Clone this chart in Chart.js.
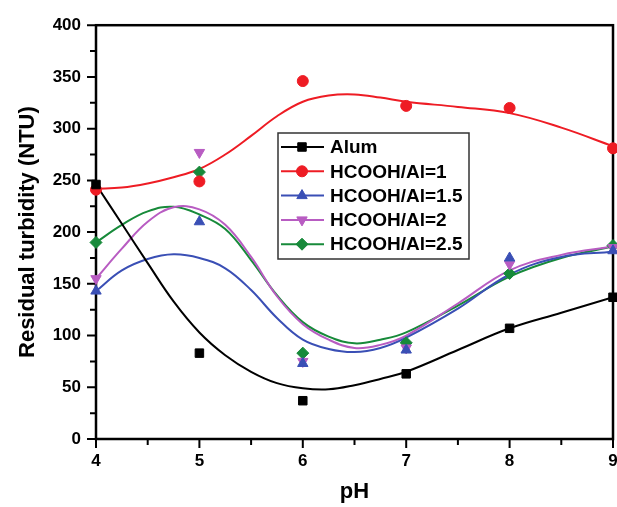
<!DOCTYPE html>
<html>
<head>
<meta charset="utf-8">
<script src="https://cdn.jsdelivr.net/npm/chart.js@4.4.1/dist/chart.umd.min.js"></script>
<style>
  html, body { margin: 0; padding: 0; background: #fff; overflow: hidden; }
  #wrap { width: 630px; height: 507px; }
</style>
</head>
<body>
<div id="wrap"><canvas id="chart" width="630" height="507"></canvas></div>
<script>
// measured points
const phPoints = [4, 5, 6, 7, 8, 9];
const alum = [246, 83, 37, 63, 107, 137];
const ratio1 = [241, 249, 346, 322, 320, 281];
const ratio15 = [143, 210, 73, 86, 175, 182];
const ratio2 = [155, 277, 75, 88, 169, 185];
const ratio25 = [190, 258, 83, 93, 160, 187];

// fitted curves
const phCurve = [4, 4.25, 4.5, 4.75, 5, 5.25, 5.5, 5.75, 6, 6.25, 6.5, 6.75, 7, 7.5, 8, 8.5, 9];
const alumFit = [246, 208, 170, 133, 103, 81, 65, 54, 49, 48, 52, 58, 65, 86, 107, 122, 137];
const ratio1Fit = [242, 243, 247, 253, 261, 275, 293, 312, 326, 332, 333, 330, 326, 321, 315, 301, 283];
const ratio15Fit = [143, 163, 174, 178.5, 175, 165, 144, 117, 96, 87, 84, 88, 98, 126, 159, 176, 181];
const ratio2Fit = [155, 184, 210, 224, 222, 207, 176, 138, 111, 96, 88, 91, 100, 131, 163, 178, 186];
const ratio25Fit = [190, 207, 220, 224.5, 217, 203, 173, 139, 113, 99, 92.5, 96, 103, 129, 157, 175, 186];

const yTicks = [0, 50, 100, 150, 200, 250, 300, 350, 400];
const xTicks = [4, 5, 6, 7, 8, 9];

const series = [
  { label: 'Alum', pts: alum, fit: alumFit, color: '#000000', style: 'rect', radius: 6, rotation: 0 },
  { label: 'HCOOH/Al=1', pts: ratio1, fit: ratio1Fit, color: '#ee1c24', style: 'circle', radius: 5.5, rotation: 0 },
  { label: 'HCOOH/Al=1.5', pts: ratio15, fit: ratio15Fit, color: '#3a4fb5', style: 'triangle', radius: 6, rotation: 0 },
  { label: 'HCOOH/Al=2', pts: ratio2, fit: ratio2Fit, color: '#b85cc2', style: 'triangle', radius: 6, rotation: 180 },
  { label: 'HCOOH/Al=2.5', pts: ratio25, fit: ratio25Fit, color: '#178a3a', style: 'rectRot', radius: 6, rotation: 0 },
];

const FONT = "'Liberation Sans', Arial, sans-serif";

const datasets = [];
series.forEach(s => {
  datasets.push({
    label: s.label + ' fit',
    data: phCurve.map((x, i) => ({ x, y: s.fit[i] })),
    showLine: true,
    borderColor: s.color,
    borderWidth: 2,
    pointRadius: 0,
    tension: 0.4,
    fill: false,
    order: 2,
  });
  datasets.push({
    label: s.label,
    data: phPoints.map((x, i) => ({ x, y: s.pts[i] })),
    showLine: false,
    pointStyle: s.style,
    pointRotation: s.rotation,
    pointRadius: s.radius,
    pointBackgroundColor: s.color,
    pointBorderColor: s.color,
    pointBorderWidth: 1,
    clip: false,
    order: 1,
  });
});

// frame box + outward major / minor ticks
const frameTicks = {
  id: 'frameTicks',
  beforeDatasetsDraw(chart) {
    const { ctx, chartArea: a, scales: { x, y } } = chart;
    ctx.save();
    ctx.strokeStyle = '#000';
    ctx.lineWidth = 2.5;
    ctx.strokeRect(a.left, a.top, a.right - a.left, a.bottom - a.top);
    ctx.lineWidth = 2;
    ctx.beginPath();
    for (let v = 0; v <= 400; v += 25) {
      const py = y.getPixelForValue(v);
      const len = v % 50 === 0 ? 9 : 6;
      ctx.moveTo(a.left - len, py);
      ctx.lineTo(a.left, py);
    }
    for (let v = 4; v <= 9; v += 0.5) {
      const px = x.getPixelForValue(v);
      const len = v % 1 === 0 ? 9 : 6;
      ctx.moveTo(px, a.bottom);
      ctx.lineTo(px, a.bottom + len);
    }
    ctx.stroke();
    ctx.restore();
  },
};

// boxed legend inside plot
const boxLegend = {
  id: 'boxLegend',
  afterDraw(chart) {
    const { ctx } = chart;
    const left = 278, top = 133, w = 191, h = 126;
    ctx.save();
    ctx.fillStyle = '#fff';
    ctx.fillRect(left, top, w, h);
    ctx.strokeStyle = '#333';
    ctx.lineWidth = 1.5;
    ctx.strokeRect(left, top, w, h);
    series.forEach((s, i) => {
      const ry = top + 14 + i * 24.3;
      ctx.strokeStyle = s.color;
      ctx.lineWidth = 2;
      ctx.beginPath();
      ctx.moveTo(left + 3, ry);
      ctx.lineTo(left + 46, ry);
      ctx.stroke();
      ctx.fillStyle = s.color;
      ctx.strokeStyle = s.color;
      ctx.lineWidth = 1;
      if (Chart.helpers && Chart.helpers.drawPoint) {
        Chart.helpers.drawPoint(ctx, { pointStyle: s.style, radius: s.radius, rotation: s.rotation, borderWidth: 1 }, left + 24, ry);
      }
      ctx.fillStyle = '#000';
      ctx.font = 'bold 19px ' + FONT;
      ctx.textAlign = 'left';
      ctx.textBaseline = 'middle';
      ctx.fillText(s.label, left + 52, ry + 1);
    });
    ctx.restore();
  },
};

const tickFont = { family: FONT, size: 17, weight: 'bold' };
const titleFont = { family: FONT, size: 22, weight: 'bold' };

new Chart(document.getElementById('chart'), {
  type: 'scatter',
  data: { datasets },
  options: {
    responsive: false,
    animation: false,
    layout: { padding: { left: 0, right: 17, top: 22, bottom: 0 } },
    plugins: { legend: { display: false }, tooltip: { enabled: false } },
    scales: {
      x: {
        type: 'linear', min: 4, max: 9,
        grid: { display: false, drawTicks: false },
        border: { display: false },
        afterBuildTicks: s => { s.ticks = xTicks.map(v => ({ value: v })); },
        ticks: { color: '#000', font: tickFont, padding: 12, maxRotation: 0 },
        title: { display: true, text: 'pH', color: '#000', font: titleFont, padding: { top: 0, bottom: 2 } },
        afterFit: s => { s.height = 68; },
      },
      y: {
        type: 'linear', min: 0, max: 400,
        grid: { display: false, drawTicks: false },
        border: { display: false },
        afterBuildTicks: s => { s.ticks = yTicks.map(v => ({ value: v })); },
        ticks: { color: '#000', font: tickFont, padding: 15 },
        title: { display: true, text: 'Residual turbidity (NTU)', color: '#000', font: titleFont, padding: { top: 15, bottom: 0 } },
        afterFit: s => { s.width = 96; },
      },
    },
  },
  plugins: [frameTicks, boxLegend],
});
</script>
</body>
</html>
